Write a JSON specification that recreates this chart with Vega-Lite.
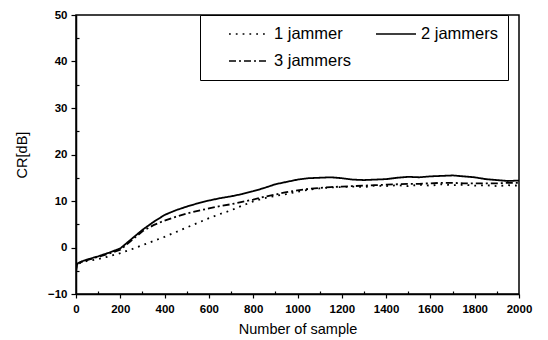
{
  "$schema": "https://vega.github.io/schema/vega-lite/v6.json",
  "width": 443,
  "height": 279,
  "autosize": "none",
  "padding": {"left": 76, "top": 15, "right": 29, "bottom": 46},
  "background": "white",
  "config": {
    "font": "Liberation Sans",
    "view": {"stroke": "black", "strokeWidth": 1.5},
    "axis": {"domainColor": "black", "domainWidth": 1.5, "tickColor": "black", "tickWidth": 1.2, "labelColor": "black", "titleColor": "black", "labelFontSize": 11.5, "labelFontWeight": "bold", "titleFontSize": 14.5, "titleFontWeight": "normal", "grid": false, "labelOverlap": false, "labelFlush": false}
  },
  "data": {
    "values": [
      {"n": 0, "a": -4.5, "b": -5.5, "c": -4.8},
      {"n": 4, "a": -3.6, "b": -3.5, "c": -3.6},
      {"n": 25, "a": -3.2, "b": -3.0, "c": -3.1},
      {"n": 50, "a": -2.9, "b": -2.6, "c": -2.7},
      {"n": 100, "a": -2.5, "b": -1.9, "c": -2.0},
      {"n": 150, "a": -1.9, "b": -1.1, "c": -1.3},
      {"n": 200, "a": -1.2, "b": -0.2, "c": -0.5},
      {"n": 250, "a": -0.4, "b": 1.8, "c": 1.5},
      {"n": 300, "a": 0.5, "b": 3.8, "c": 3.5},
      {"n": 350, "a": 1.4, "b": 5.5, "c": 4.8},
      {"n": 400, "a": 2.3, "b": 7.0, "c": 5.8},
      {"n": 450, "a": 3.3, "b": 8.0, "c": 6.6},
      {"n": 500, "a": 4.3, "b": 8.8, "c": 7.3},
      {"n": 550, "a": 5.3, "b": 9.5, "c": 7.9},
      {"n": 600, "a": 6.3, "b": 10.1, "c": 8.4},
      {"n": 650, "a": 7.2, "b": 10.6, "c": 8.9},
      {"n": 700, "a": 8.0, "b": 11.0, "c": 9.3},
      {"n": 750, "a": 9.0, "b": 11.5, "c": 9.8},
      {"n": 800, "a": 9.9, "b": 12.1, "c": 10.3},
      {"n": 850, "a": 10.6, "b": 12.8, "c": 10.9},
      {"n": 900, "a": 11.1, "b": 13.6, "c": 11.4},
      {"n": 950, "a": 11.5, "b": 14.1, "c": 11.9},
      {"n": 1000, "a": 12.0, "b": 14.6, "c": 12.3},
      {"n": 1050, "a": 12.4, "b": 14.9, "c": 12.6},
      {"n": 1100, "a": 12.7, "b": 15.0, "c": 12.8},
      {"n": 1150, "a": 12.9, "b": 15.1, "c": 13.0},
      {"n": 1200, "a": 13.0, "b": 14.9, "c": 13.1},
      {"n": 1250, "a": 13.1, "b": 14.6, "c": 13.2},
      {"n": 1300, "a": 13.0, "b": 14.5, "c": 13.3},
      {"n": 1350, "a": 13.3, "b": 14.6, "c": 13.4},
      {"n": 1400, "a": 13.2, "b": 14.7, "c": 13.5},
      {"n": 1450, "a": 13.4, "b": 15.0, "c": 13.6},
      {"n": 1500, "a": 13.2, "b": 15.2, "c": 13.7},
      {"n": 1550, "a": 13.5, "b": 15.1, "c": 13.7},
      {"n": 1600, "a": 13.3, "b": 15.3, "c": 13.8},
      {"n": 1650, "a": 13.6, "b": 15.4, "c": 13.9},
      {"n": 1700, "a": 13.4, "b": 15.5, "c": 13.9},
      {"n": 1750, "a": 13.5, "b": 15.3, "c": 13.8},
      {"n": 1800, "a": 13.3, "b": 15.1, "c": 13.8},
      {"n": 1850, "a": 13.4, "b": 14.7, "c": 13.8},
      {"n": 1900, "a": 13.2, "b": 14.5, "c": 13.8},
      {"n": 1950, "a": 13.4, "b": 14.3, "c": 13.9},
      {"n": 2000, "a": 13.3, "b": 14.4, "c": 13.9}
    ]
  },
  "transform": [
    {"fold": ["a", "b", "c"], "as": ["key", "cr"]},
    {"lookup": "key", "from": {"data": {"values": [
      {"key": "a", "series": "1 jammer"},
      {"key": "b", "series": "2 jammers"},
      {"key": "c", "series": "3 jammers"}
    ]}, "key": "key", "fields": ["series"]}}
  ],
  "mark": {"type": "line", "color": "black", "strokeWidth": 1.8, "clip": true},
  "encoding": {
    "x": {"field": "n", "type": "quantitative", "scale": {"domain": [0, 2000], "nice": false},
      "axis": {"values": [0, 100, 200, 300, 400, 500, 600, 700, 800, 900, 1000, 1100, 1200, 1300, 1400, 1500, 1600, 1700, 1800, 1900, 2000],
        "labelExpr": "datum.value % 200 === 0 ? format(datum.value, 'd') : ''",
        "tickSize": {"condition": {"test": "datum.value % 200 === 0", "value": 4}, "value": -3},
        "title": "Number of sample", "labelPadding": 5, "titlePadding": 8}},
    "y": {"field": "cr", "type": "quantitative", "scale": {"domain": [-10, 50], "nice": false},
      "axis": {"values": [-10, -5, 0, 5, 10, 15, 20, 25, 30, 35, 40, 45, 50],
        "labelExpr": "datum.value % 10 === 0 ? format(datum.value, 'd') : ''",
        "tickSize": {"condition": {"test": "datum.value % 10 === 0", "value": 5}, "value": -3},
        "title": "CR[dB]", "labelPadding": 4, "titlePadding": 18}},
    "strokeDash": {
      "field": "series", "type": "nominal",
      "scale": {"domain": ["1 jammer", "2 jammers", "3 jammers"], "range": [[1.8, 5], [1, 0], [7, 3, 2, 3]]},
      "legend": {
        "title": null, "orient": "none", "legendX": 124, "legendY": 0,
        "columns": 2, "direction": "horizontal", "gridAlign": "none",
        "symbolType": "stroke", "symbolSize": 1600, "symbolStrokeWidth": 1.6, "symbolStrokeColor": "black",
        "symbolOffset": 19, "clipHeight": 20,
        "labelFontSize": 16.5, "labelColor": "black", "labelOffset": 4,
        "padding": 9, "rowPadding": 7, "columnPadding": 4,
        "strokeColor": "black", "fillColor": "white"
      }
    }
  }
}
